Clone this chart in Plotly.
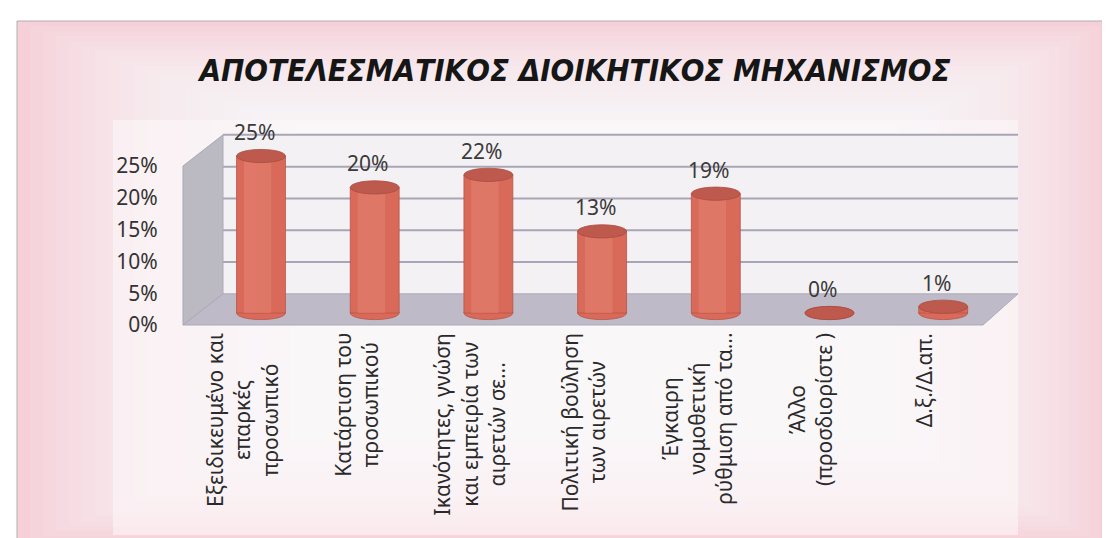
import plotly.graph_objects as go

# ---------------- data ----------------
categories = [
    "Εξειδικευμένο και<br>επαρκές<br>προσωπικό",
    "Κατάρτιση του<br>προσωπικού",
    "Ικανότητες, γνώση<br>και εμπειρία των<br>αιρετών σε...",
    "Πολιτική βούληση<br>των αιρετών",
    "Έγκαιρη<br>νομοθετική<br>ρύθμιση από τα...",
    "Άλλο<br>(προσδιορίστε )",
    "Δ.ξ./Δ.απ.",
]
values = [25, 20, 22, 13, 19, 0, 1]
tick_values = [0, 5, 10, 15, 20, 25]
tick_labels = ["0%", "5%", "10%", "15%", "20%", "25%"]
title_text = "ΑΠΟΤΕΛΕΣΜΑΤΙΚΟΣ ΔΙΟΙΚΗΤΙΚΟΣ ΜΗΧΑΝΙΣΜΟΣ"

# ---------------- layout geometry (pixels) ----------------
W, H = 1110, 538
PL, PR, PT, PB = 175, 1010, 100, 318      # plot area
X0, DX = 253, 113.7                        # first category centre, spacing
LAB_ZERO, LAB_SCALE = 317, 6.36            # label axis: px of 0, px per %
BAR_ZERO, BAR_SCALE = 305, 6.28            # bar axis: px of 0, px per %
DEPTH = 4.9                                # back wall offset (label units)
BAR_W = 0.43

def xp(px):
    return (px - PL) / (PR - PL)

def yp(py):
    return (PB - py) / (PB - PT)

FONT = "Noto Sans, Open Sans, DejaVu Sans, sans-serif"
BAR_COL = "#D96A59"
EDGE_COL = "#B85448"
CAP_COL = "#BE5A4D"

fig = go.Figure()

fig.add_trace(go.Bar(
    x=categories, y=values, width=BAR_W, yaxis="y",
    marker=dict(color=BAR_COL, line=dict(color=EDGE_COL, width=0.8)),
    hoverinfo="skip", showlegend=False,
))
fig.add_trace(go.Bar(
    x=categories, y=values, width=0.24, offset=-0.15, yaxis="y",
    marker=dict(color="#E8887A", line=dict(width=0)), opacity=0.45,
    hoverinfo="skip", showlegend=False,
))
# invisible trace to carry the label axis
fig.add_trace(go.Scatter(x=[categories[0]], y=[0], yaxis="y2", mode="markers",
                         marker=dict(opacity=0), hoverinfo="skip", showlegend=False))

shapes = []
# background frame with soft pink gradient
shapes.append(dict(type="rect", xref="paper", yref="paper", layer="below",
                   x0=xp(9), x1=xp(1101), y0=yp(538), y1=yp(13),
                   fillcolor="#F6D0D8", line=dict(color="#B0B0B0", width=1)))
for k in range(1, 31):
    shapes.append(dict(type="rect", xref="paper", yref="paper", layer="below",
                       x0=xp(9 + 13 * k), x1=xp(1101 - 10 * k),
                       y0=yp(538 - 5 * k), y1=yp(13 + 5 * k),
                       fillcolor="rgba(255,255,255,0.09)", line=dict(width=0)))
shapes.append(dict(type="rect", xref="paper", yref="paper", layer="below",
                   x0=xp(105), x1=xp(1010), y0=yp(527), y1=yp(112),
                   fillcolor="rgba(254,248,250,0.55)", line=dict(width=0)))
# back wall
top = tick_values[-1]
shapes.append(dict(type="rect", xref="paper", yref="y2", layer="below",
                   x0=xp(215), x1=xp(1010), y0=DEPTH, y1=top + DEPTH,
                   fillcolor="#F4F1F4", line=dict(width=0)))
for v in tick_values[1:]:
    shapes.append(dict(type="line", xref="paper", yref="y2", layer="below",
                       x0=xp(215), x1=xp(1010), y0=v + DEPTH, y1=v + DEPTH,
                       line=dict(color="#A8A6B6", width=2)))
# side wall
shapes.append(dict(type="path", xref="paper", yref="y2", layer="below",
                   path=f"M {xp(175)},0 L {xp(175)},{top} L {xp(215)},{top + DEPTH} L {xp(215)},{DEPTH} Z",
                   fillcolor="#BBBAC3", line=dict(color="#AAA9B5", width=1)))
# floor
shapes.append(dict(type="path", xref="paper", yref="y2", layer="below",
                   path=f"M {xp(175)},0 L {xp(215)},{DEPTH} L {xp(1010)},{DEPTH} L {xp(975)},0 Z",
                   fillcolor="#BEBAC7", line=dict(color="#ADA9B7", width=1)))
# cylinder bottoms and tops
eh = 1.05
for i, v in enumerate(values):
    shapes.append(dict(type="circle", xref="x", yref="y", layer="below",
                       x0=i - BAR_W / 2, x1=i + BAR_W / 2, y0=-eh, y1=eh,
                       fillcolor=BAR_COL, line=dict(color=EDGE_COL, width=0.8)))
    shapes.append(dict(type="circle", xref="x", yref="y", layer="above",
                       x0=i - BAR_W / 2, x1=i + BAR_W / 2, y0=v - eh, y1=v + eh,
                       fillcolor=CAP_COL, line=dict(color="#A84B40", width=0.8)))

annotations = []
for i, v in enumerate(values):
    annotations.append(dict(x=i, y=v, xref="x", yref="y", text=f"{v}%",
                            showarrow=False, yshift=24, xshift=-7,
                            font=dict(family=FONT, size=21, color="#3A3A3A")))
for i, c in enumerate(categories):
    annotations.append(dict(x=i, y=yp(323), xref="x", yref="paper", text=c,
                            showarrow=False, textangle=-90, align="center",
                            xanchor="center", yanchor="top", xshift=-19,
                            font=dict(family=FONT, size=21, color="#2A2A2A")))

fig.update_layout(
    width=W, height=H,
    margin=dict(l=PL, r=W - PR, t=PT, b=H - PB, pad=0),
    paper_bgcolor="#FFFFFF", plot_bgcolor="rgba(0,0,0,0)",
    barmode="overlay",
    title=dict(text=f"<b><i>{title_text}</i></b>", x=567 / W, xref="container",
               xanchor="center", y=1 - 62 / H, yref="container", yanchor="middle",
               font=dict(family="DejaVu Sans Condensed, DejaVu Sans, sans-serif",
                         size=31, color="#161616")),
    xaxis=dict(type="category", range=[(PL - X0) / DX, (PR - X0) / DX],
               showticklabels=False, showgrid=False, zeroline=False, showline=False,
               ticks=""),
    yaxis=dict(range=[(BAR_ZERO - PB) / BAR_SCALE, (BAR_ZERO - PT) / BAR_SCALE],
               showticklabels=False, showgrid=False, zeroline=False, showline=False),
    yaxis2=dict(range=[(LAB_ZERO - PB) / LAB_SCALE, (LAB_ZERO - PT) / LAB_SCALE],
                overlaying="y", side="left", tickmode="array",
                tickvals=tick_values, ticktext=tick_labels,
                showgrid=False, zeroline=False, showline=False,
                ticks="outside", ticklen=20, tickcolor="rgba(0,0,0,0)",
                tickfont=dict(family=FONT, size=21, color="#333333")),
    shapes=shapes,
    annotations=annotations,
)

fig.write_html("out.html")
